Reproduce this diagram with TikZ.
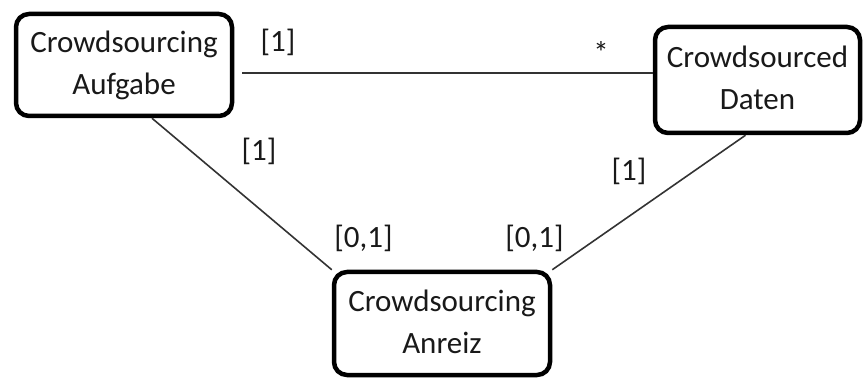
\documentclass[tikz,border=0pt]{standalone}
\usepackage{fontspec}
\setmainfont{Carlito}
% fixed line height/depth so both lines of a box sit evenly
\newcommand\boxstrut{\rule[-6pt]{0pt}{30pt}}
\begin{document}
\begin{tikzpicture}[x=1pt,y=-1pt,
  entity/.style={draw=black, line width=4.5pt, rounded corners=13pt,
    align=center, inner sep=0pt, text=black!90,
    font=\fontsize{31}{42}\selectfont},
  link/.style={draw=black!80, line width=1.6pt},
  mult/.style={inner sep=0pt, text=black!90, font=\fontsize{31}{42}\selectfont}]
  \useasboundingbox (0,0) rectangle (865,379);

  % entities
  \node[entity, minimum width=216pt, minimum height=102pt] (aufgabe) at (124,65)
    {\boxstrut Crowdsourcing\\\boxstrut Aufgabe};
  \node[entity, minimum width=205pt, minimum height=106pt] (daten) at (757.5,80)
    {\boxstrut Crowdsourced\\\boxstrut Daten};
  \node[entity, minimum width=216pt, minimum height=103pt] (anreiz) at (442,323.5)
    {\boxstrut Crowdsourcing\\\boxstrut Anreiz};

  % associations
  \draw[link] ([xshift=8pt,yshift=-8pt]aufgabe.east) -- ([yshift=7pt]daten.west);
  \draw[link] ([xshift=28pt]aufgabe.south) -- (anreiz.north west);
  \draw[link] ([xshift=-12pt]daten.south) -- (anreiz.north east);

  % multiplicities
  \node[mult] (m1) at (278,42) {[1]};
  \node[mult] (m2) at (601,52) {*};
  \node[mult] (m3) at (259,151) {[1]};
  \node[mult] (m4) at (629,171) {[1]};
  \node[mult] (m5) at (363.5,238.5) {[0,1]};
  \node[mult] (m6) at (534.5,238.5) {[0,1]};
\end{tikzpicture}
\end{document}
